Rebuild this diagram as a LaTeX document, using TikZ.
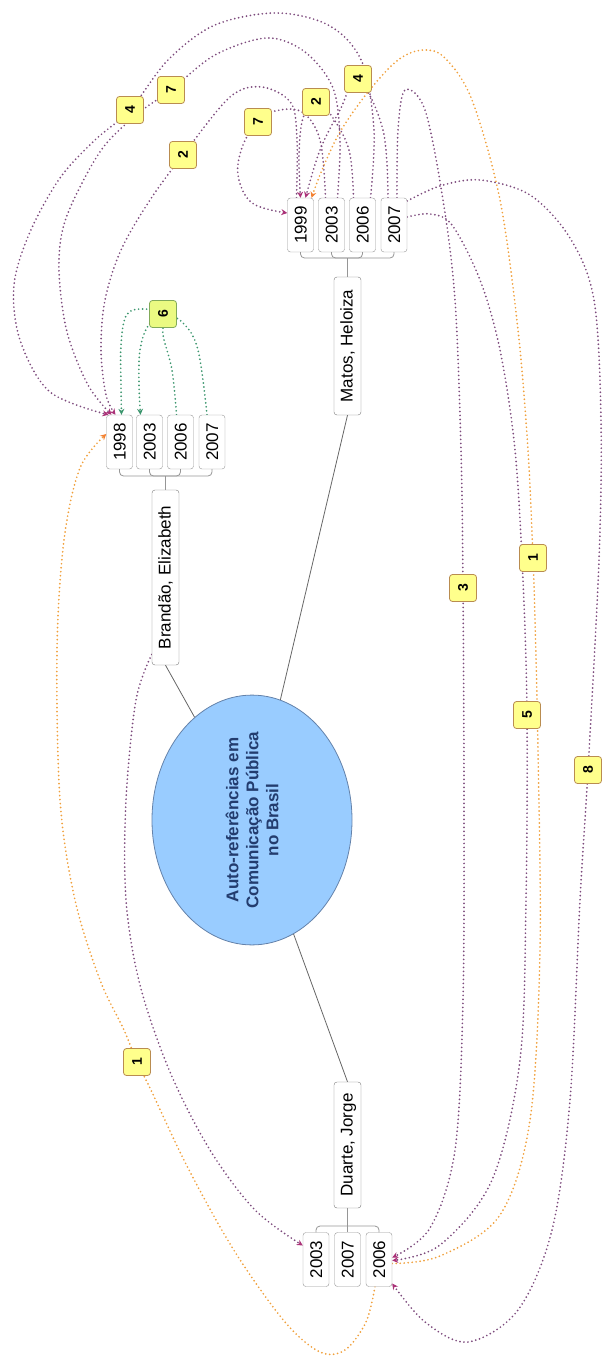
\documentclass[tikz,border=0pt]{standalone}
\usepackage{fontspec}
\setmainfont{Liberation Sans}
\usetikzlibrary{arrows.meta,shapes.geometric}
\pgfdeclarelayer{bg}\pgfsetlayers{bg,main}
\definecolor{circfill}{RGB}{153,204,255}
\definecolor{circline}{RGB}{100,130,170}
\definecolor{circtext}{RGB}{35,60,110}
\definecolor{boxline}{RGB}{150,150,150}
\definecolor{labfill}{RGB}{255,255,140}
\definecolor{labline}{RGB}{185,140,80}
\definecolor{labfillg}{RGB}{235,250,130}
\definecolor{lablineg}{RGB}{130,170,90}
\definecolor{rpc}{RGB}{125,75,125}
\definecolor{roc}{RGB}{240,160,60}
\definecolor{rgc}{RGB}{60,150,110}
\definecolor{tipc}{RGB}{170,50,120}
\newcommand{\rn}[1]{\rotatebox{90}{#1}}
\begin{document}
\begin{tikzpicture}[x=1pt,y=-1pt,
  yearbox/.style={draw=boxline, fill=white, rounded corners=3pt, rotate=90,
    minimum width=54pt, minimum height=26pt, inner sep=0pt,
    text height=12pt, text depth=0pt, font=\fontsize{17}{17}\selectfont},
  authbox/.style={draw=boxline!80!black, fill=white, rounded corners=3pt, rotate=90,
    minimum height=27pt, inner sep=0pt, text height=12pt, text depth=2pt,
    font=\fontsize{17}{17}\selectfont},
  lab/.style={draw=labline, fill=labfill, rounded corners=3pt, line width=0.8pt,
    minimum width=27pt, minimum height=27pt, inner sep=0pt, font=\bfseries\fontsize{14}{14}\selectfont},
  labg/.style={lab, draw=lablineg, fill=labfillg},
  br/.style={draw=boxline, line width=0.8pt, rounded corners=4pt},
  conn/.style={draw=black!60, line width=0.8pt},
  rel/.style={line width=1.9pt, dash pattern=on 0pt off 4pt, line cap=round},
  rp/.style={rel, draw=rpc, -{Stealth[length=6pt,width=6pt,color=tipc]}},
  ro/.style={rel, draw=roc, -{Stealth[length=6pt,width=6pt,color=roc!80!red]}},
  rg/.style={rel, draw=rgc, -{Stealth[length=6pt,width=6pt,color=rgc]}}
]
\useasboundingbox (0,0) rectangle (603,1359);

% central topic
\node[ellipse, draw=circline, fill=circfill, line width=0.8pt, rotate=90,
  minimum width=234pt, minimum height=200pt, inner sep=0pt, align=center,
  text=circtext, font=\bfseries\fontsize{17}{20}\selectfont] (ctr) at (252,820)
  {Auto-referências em\\Comunicação Pública\\no Brasil};

% authors
\node[authbox, minimum width=175pt] (brandao) at (165.5,577.5) {Brandão, Elizabeth};
\node[authbox, minimum width=138pt] (matos) at (347.5,346) {Matos, Heloiza};
\node[authbox, minimum width=126pt] (duarte) at (347.5,1145) {Duarte, Jorge};

% years
\node[yearbox] (b1998) at (119.5,442) {1998};
\node[yearbox] (b2003) at (149.5,442) {2003};
\node[yearbox] (b2006) at (180.5,442) {2006};
\node[yearbox] (b2007) at (212,442) {2007};
\node[yearbox] (m1999) at (300.5,225) {1999};
\node[yearbox] (m2003) at (331.5,225) {2003};
\node[yearbox] (m2006) at (362.5,225) {2006};
\node[yearbox] (m2007) at (394,225) {2007};
\node[yearbox] (d2003) at (316,1259.5) {2003};
\node[yearbox] (d2007) at (347.5,1259.5) {2007};
\node[yearbox] (d2006) at (379,1259.5) {2006};

% labels
\node[lab] (lab4a) at (130,110) {\rn{4}};
\node[lab] (lab7a) at (171,90) {\rn{7}};
\node[lab] (lab2a) at (183,155) {\rn{2}};
\node[lab] (lab7b) at (258,122) {\rn{7}};
\node[lab] (lab2b) at (316,102) {\rn{2}};
\node[lab] (lab4b) at (358,79) {\rn{4}};
\node[labg] (lab6) at (163,314) {\rn{6}};
\node[lab] (lab3) at (463,588) {\rn{3}};
\node[lab] (lab1a) at (533,558) {\rn{1}};
\node[lab] (lab5) at (527,715) {\rn{5}};
\node[lab] (lab8) at (588,770) {\rn{8}};
\node[lab] (lab1b) at (137,1062) {\rn{1}};

% tree connectors
\draw[conn] (ctr) -- (brandao.west);
\draw[conn] (ctr) -- (matos.west);
\draw[conn] (ctr) -- (duarte.east);

\coordinate (jB) at (165.5,476);
\draw[br] (brandao.east) -- (jB);
\foreach \c in {b1998,b2003,b2006,b2007} \draw[br] (jB) -| (\c.west);
\coordinate (jM) at (347.5,258);
\draw[br] (matos.east) -- (jM);
\foreach \c in {m1999,m2003,m2006,m2007} \draw[br] (jM) -| (\c.west);
\coordinate (jD) at (347.5,1226);
\draw[br] (duarte.west) -- (jD);
\foreach \c in {d2003,d2007,d2006} \draw[br] (jD) -| (\c.east);

\begin{pgfonlayer}{bg}
% green (6)
\draw[rg] plot[smooth,tension=0.6] coordinates {([xshift=-4pt]b2006.east) (172,370) (163,335) (lab6.center) (140,309) (126,316) (121,345) (121,385) ([xshift=2pt]b1998.east)};
\draw[rg] plot[smooth,tension=0.6] coordinates {([xshift=-5pt]b2007.east) (198,350) (183,323) (lab6.center) (148,326) (140,350) (139,385) ([xshift=-9pt]b2003.east)};
% purple to 1998
\draw[rp] plot[smooth,tension=0.55] coordinates {([xshift=8pt]m2006.east) (374,130) (362,62) (330,26) (277,13) (215,25) (168,60) (lab4a.center) (95,140) (60,178) (30,232) (14,285) (20,340) (50,392) ([xshift=-11pt]b1998.east)};
\draw[rp] plot[smooth,tension=0.55] coordinates {([xshift=6pt]m2003.east) (340,140) (333,88) (305,52) (267,38) (215,55) (lab7a.center) (140,112) (105,145) (80,187) (63,228) (59,272) (67,332) (88,385) ([xshift=-8pt]b1998.east)};
\draw[rp] plot[smooth,tension=0.55] coordinates {([xshift=-4pt]m1999.east) (297,140) (291,103) (262,87) (230,97) (lab2a.center) (150,200) (121,250) (105,300) (101,350) (106,395) ([xshift=-4pt]b1998.east)};
% purple to 1999
\draw[rp] plot[smooth,tension=0.6] coordinates {([xshift=-9pt]m2006.east) (349,150) (331,115) (lab2b.center) (303,118) (299,155) ([xshift=0pt]m1999.east)};
\draw[rp] plot[smooth,tension=0.6] coordinates {([xshift=-6pt]m2007.east) (383,130) (lab4b.center) (340,110) (320,150) ([xshift=5pt]m1999.east)};
\draw[rp] plot[smooth,tension=0.6] coordinates {([xshift=-6pt]m2003.east) (320,140) (302,112) (275,111) (lab7b.center) (243,145) (238,175) (252,203) ([yshift=12pt]m1999.north)};
% purple to Duarte 2006
\draw[rp] plot[smooth,tension=0.55] coordinates {([xshift=3pt]m2007.east) (398,130) (405,90) (425,110) (443,200) (455,300) (461,450) (lab3.center) (464,800) (463,1000) (455,1150) (430,1228) ([yshift=2pt]d2006.south)};
\draw[rp] plot[smooth,tension=0.55] coordinates {([yshift=8pt]m2007.south) (430,214) (452,225) (480,280) (500,350) (515,450) (523,580) (lab5.center) (526,900) (520,1060) (492,1180) (440,1245) ([yshift=-1pt]d2006.south)};
\draw[rp] plot[smooth,tension=0.55] coordinates {([yshift=24pt]m2007.south) (440,186) (480,180) (530,195) (570,238) (594,300) (601,420) (599,560) (lab8.center) (580,900) (570,1100) (552,1230) (518,1310) (468,1342) (425,1322) ([yshift=-24pt]d2006.south)};
% purple Brandao -> Duarte 2003
\draw[rp] plot[smooth,tension=0.55] coordinates {([yshift=-77pt]brandao.north) (136,700) (126,800) (126,900) (140,985) (170,1072) (210,1150) (255,1210) ([yshift=14pt]d2003.north)};
% orange (1)
\draw[ro] plot[smooth,tension=0.55] coordinates {([yshift=-4pt]d2006.south) (440,1256) (500,1215) (530,1120) (540,950) (538,750) (535,620) (lab1a.center) (528,450) (518,330) (500,200) (472,100) (445,58) (423,50) (398,60) (368,92) (340,132) (322,170) ([xshift=11pt]m1999.east)};
\draw[ro] plot[smooth,tension=0.55] coordinates {([xshift=-4pt]d2006.west) (366,1322) (345,1350) (320,1352) (285,1322) (235,1252) (188,1168) (150,1088) (lab1b.center) (124,1030) (100,980) (75,900) (60,800) (57,650) (64,540) (80,468) ([yshift=8pt]b1998.north)};
\end{pgfonlayer}
\end{tikzpicture}
\end{document}
